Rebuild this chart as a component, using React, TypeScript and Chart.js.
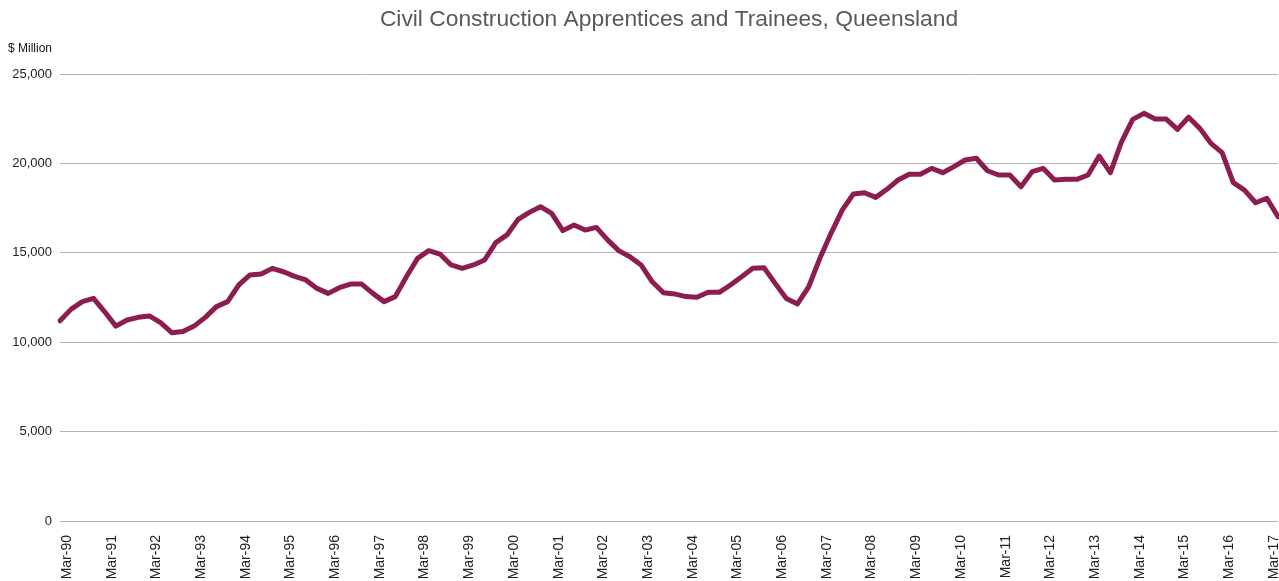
import React, { useEffect, useRef } from "react";
import { Chart, registerables } from "chart.js";

Chart.register(...registerables);

const TITLE = "Civil Construction Apprentices and Trainees, Queensland";
const Y_UNIT = "$ Million";
const YEARS = ["90","91","92","93","94","95","96","97","98","99","00","01","02","03","04","05","06","07","08","09","10","11","12","13","14","15","16","17"];
const QUARTER_MONTHS = ["Mar", "Jun", "Sep", "Dec"];
const SERIES_NAME = "Civil construction";
const VALUES = [
  11200, 11850, 12270, 12450, 11700, 10900, 11240, 11390, 11470, 11090,
  10530, 10600, 10900, 11390, 11990, 12270, 13200, 13760, 13810, 14130,
  13940, 13680, 13480, 13010, 12730, 13050, 13250, 13250, 12730, 12270,
  12550, 13660, 14690, 15120, 14930, 14320, 14130, 14320, 14600, 15570,
  16000, 16870, 17260, 17580, 17200, 16240, 16550, 16270, 16420, 15720,
  15120, 14780, 14320, 13380, 12770, 12700, 12550, 12510, 12790, 12790,
  13200, 13660, 14130, 14170, 13290, 12450, 12140, 13100, 14690, 16090,
  17390, 18290, 18360, 18100, 18550, 19070, 19390, 19390, 19720, 19480,
  19820, 20190, 20290, 19590, 19350, 19350, 18700, 19540, 19720, 19070,
  19110, 19110, 19350, 20410, 19480, 21210, 22460, 22800, 22480, 22480,
  21900, 22580, 21960, 21120, 20600, 18920, 18510, 17800, 18050, 17020,
];

const LABELS: string[] = [];
for (const y of YEARS) for (const m of QUARTER_MONTHS) LABELS.push(`${m}-${y}`);
LABELS.length = VALUES.length;

const FONT = "'Liberation Sans', Arial, Helvetica, sans-serif";

const textPlugin = {
  id: "textPlugin",
  afterDraw(chart: any) {
    const { ctx, chartArea } = chart;
    ctx.save();
    ctx.fillStyle = "#595959";
    ctx.font = `22.8px ${FONT}`;
    ctx.textAlign = "center";
    ctx.textBaseline = "middle";
    ctx.fillText(TITLE, (chartArea.left + chartArea.right) / 2, 20);
    ctx.fillStyle = "#111";
    ctx.font = `12px ${FONT}`;
    ctx.textAlign = "left";
    ctx.fillText(Y_UNIT, 8, 49);
    ctx.restore();
  },
};

export default function App() {
  const ref = useRef<HTMLCanvasElement>(null);
  useEffect(() => {
    document.body.style.margin = "0";
    const chart = new Chart(ref.current!, {
      type: "line",
      data: {
        labels: LABELS,
        datasets: [
          {
            label: SERIES_NAME,
            data: VALUES,
            borderColor: "#8D1C50",
            borderWidth: 5,
            pointRadius: 0,
            tension: 0,
            borderJoinStyle: "round",
            borderCapStyle: "round",
            fill: false,
          },
        ],
      },
      options: {
        responsive: false,
        animation: false,
        maintainAspectRatio: false,
        layout: { padding: { left: 12, right: 1, top: 74, bottom: 2 } },
        plugins: {
          legend: { display: false },
          title: { display: false },
          tooltip: { enabled: false },
        },
        scales: {
          x: {
            offset: false,
            grid: { display: false, drawTicks: false },
            border: { display: false },
            afterFit: (scale: any) => {
              scale.paddingLeft = 0;
              scale.paddingRight = 0;
              scale.height = 58;
            },
            ticks: {
              autoSkip: false,
              maxRotation: 90,
              minRotation: 90,
              padding: 14,
              labelOffset: 7,
              color: "#222",
              font: { family: FONT, size: 14 },
              callback: (_v: any, i: number) => (i % 4 === 0 ? LABELS[i] : ""),
            },
          },
          y: {
            min: 0,
            max: 25000,
            border: { display: false },
            afterFit: (scale: any) => {
              scale.paddingTop = 0;
              scale.paddingBottom = 0;
              scale.width = 48;
            },
            grid: { color: "#b3b3b3", lineWidth: 1, drawTicks: false },
            ticks: {
              stepSize: 5000,
              padding: 8,
              color: "#222",
              font: { family: FONT, size: 13 },
              callback: (v: any) => Number(v).toLocaleString("en-US"),
            },
          },
        },
      },
      plugins: [textPlugin],
    });
    return () => chart.destroy();
  }, []);
  return (
    <div style={{ width: 1279, height: 581 }}>
      <canvas ref={ref} width={1279} height={581} style={{ display: "block" }} />
    </div>
  );
}
